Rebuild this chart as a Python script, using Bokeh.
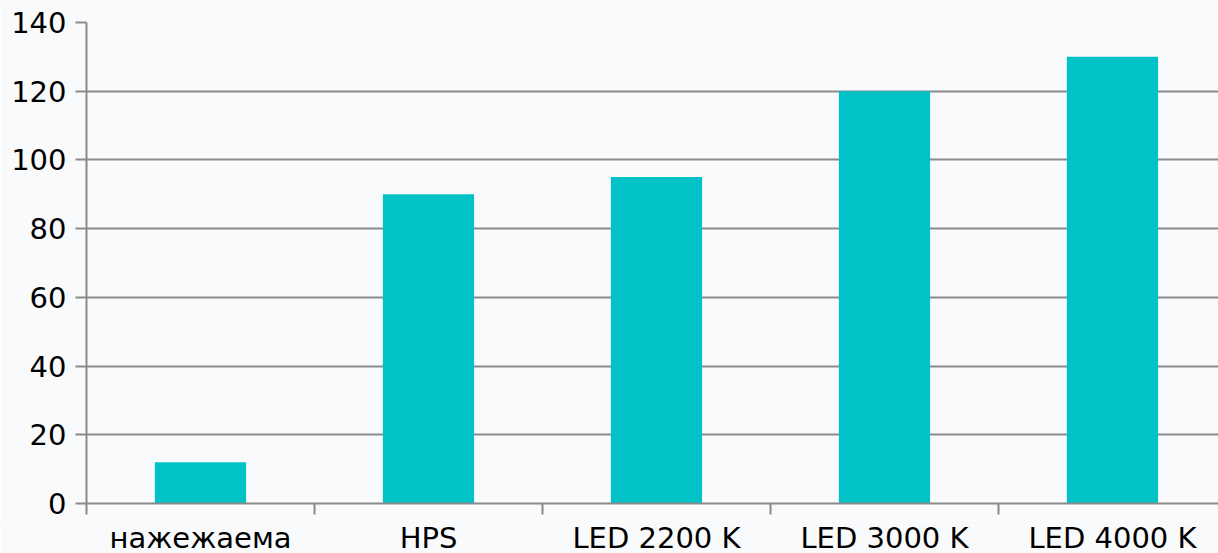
from bokeh.plotting import figure
from bokeh.layouts import column
from bokeh.models import ColumnDataSource, FixedTicker, Range1d
from bokeh.core.properties import value
from bokeh.embed import file_html
from bokeh.resources import INLINE

categories = ["нажежаема", "HPS", "LED 2200 K", "LED 3000 K", "LED 4000 K"]
values = [12, 90, 95, 120, 130]
y_ticks = [0, 20, 40, 60, 80, 100, 120, 140]

BG = "#f9fafc"
BAR = "#00c2c7"
GRID = "#8a8a8a"
FONT = "DejaVu Sans"

centers = [i + 0.5 for i in range(len(categories))]
bounds = [i for i in range(len(categories))]

src = ColumnDataSource(dict(x=centers, top=values, cat=categories,
                            ly=[16] * len(categories)))

xr = Range1d(0, 4.965)

p = figure(width=1218, height=520, output_backend="svg", toolbar_location=None,
           x_range=xr, y_range=Range1d(0, 140),
           min_border_left=86, min_border_top=22, min_border_bottom=17,
           min_border_right=0)
p.background_fill_color = BG
p.border_fill_color = BG
p.outline_line_color = None

p.vbar(x="x", top="top", width=0.4, bottom=0, source=src, color=BAR, line_color=None)

# y axis
p.yaxis.ticker = FixedTicker(ticks=y_ticks)
p.yaxis.axis_line_color = GRID
p.yaxis.axis_line_width = 2
p.yaxis.major_tick_line_color = GRID
p.yaxis.major_tick_line_width = 2
p.yaxis.major_tick_out = 11
p.yaxis.major_tick_in = 0
p.yaxis.minor_tick_line_color = None
p.yaxis.major_label_text_font = FONT
p.yaxis.major_label_text_font_size = "29px"
p.yaxis.major_label_text_color = "#000000"
p.yaxis.major_label_standoff = 9

# x axis (boundary ticks only)
p.xaxis.ticker = FixedTicker(ticks=[], minor_ticks=bounds)
p.xaxis.axis_line_color = GRID
p.xaxis.axis_line_width = 2
p.xaxis.minor_tick_line_color = GRID
p.xaxis.minor_tick_line_width = 2
p.xaxis.minor_tick_out = 11
p.xaxis.minor_tick_in = 0
p.xaxis.major_tick_line_color = None
p.xaxis.major_tick_out = 0
p.xaxis.major_label_text_font_size = "0px"
p.xaxis.major_label_standoff = 0

# grid
p.xgrid.grid_line_color = None
p.ygrid.ticker = FixedTicker(ticks=y_ticks)
p.ygrid.grid_line_color = GRID
p.ygrid.grid_line_width = 2

# category labels strip
q = figure(width=1218, height=33, output_backend="svg", toolbar_location=None,
           x_range=xr, y_range=Range1d(0, 33),
           min_border_left=86, min_border_top=0, min_border_bottom=0,
           min_border_right=0)
q.axis.visible = False
q.grid.grid_line_color = None
q.background_fill_color = BG
q.border_fill_color = BG
q.outline_line_color = None
q.text(x="x", y="ly", text="cat", source=src, text_align="center",
       text_baseline="middle", text_font=value(FONT), text_font_size="29px",
       text_color="#000000")

layout = column(p, q, spacing=0)
open("out.html", "w").write(file_html(layout, INLINE))
